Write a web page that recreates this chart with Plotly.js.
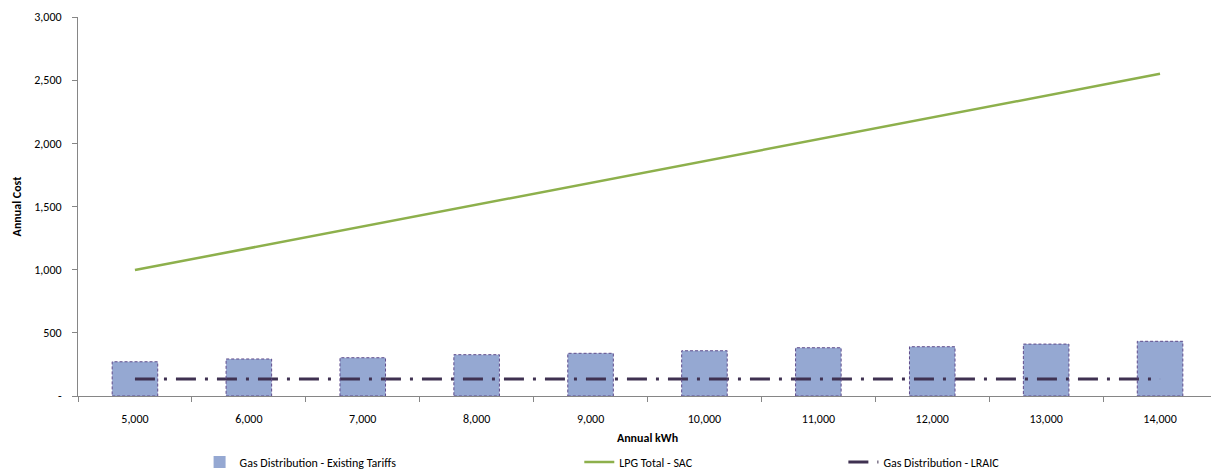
<!DOCTYPE html>
<html>
<head>
<meta charset="utf-8">
<script src="https://cdn.plot.ly/plotly-3.0.1.min.js"></script>
<style>
  html, body { margin: 0; padding: 0; background: #ffffff; overflow: hidden; }
  #chart { width: 1217px; height: 472px; }
</style>
</head>
<body>
<div id="chart"></div>
<script>
// Annual consumption bands (kWh)
const annualKwh = ["5,000", "6,000", "7,000", "8,000", "9,000", "10,000", "11,000", "12,000", "13,000", "14,000"];

// Gas distribution cost under existing tariffs
const existingTariffs = [271, 293, 303, 327, 338, 358, 382, 390, 411, 433];

// LPG total stand-alone cost
const lpgTotalSac = [997, 1170, 1342, 1515, 1687, 1860, 2032, 2205, 2377, 2550];

// Gas distribution long-run average incremental cost
const lraic = [135, 135, 135, 135, 135, 135, 135, 135, 135, 135];

// Y axis ticks (zero shown as a dash, accounting style)
const yTickVals = [0, 500, 1000, 1500, 2000, 2500, 3000];
const yTickText = ["-", "500", "1,000", "1,500", "2,000", "2,500", "3,000"];

const FONT = "Carlito, Lato, 'Liberation Sans', sans-serif";
const FS = 12;
const BAR_WIDTH = 0.4;

const traces = [
  {
    type: "bar",
    name: "Gas Distribution - Existing Tariffs",
    x: annualKwh,
    y: existingTariffs,
    width: BAR_WIDTH,
    marker: { color: "#95A8D2", line: { width: 0 } },
    legend: "legend",
    hoverinfo: "x+y"
  },
  {
    type: "scatter",
    mode: "lines",
    name: "LPG Total - SAC",
    x: annualKwh,
    y: lpgTotalSac,
    line: { color: "#8DB04C", width: 2.5 },
    legend: "legend2"
  },
  {
    type: "scatter",
    mode: "lines",
    name: "Gas Distribution - LRAIC",
    x: annualKwh,
    y: lraic,
    line: { color: "#3F3151", width: 3, dash: "20px,9px,3px,9px" },
    legend: "legend3"
  }
];

// Dashed outlines around each bar, built from the same series
const barOutlines = existingTariffs.map((v, i) => ({
  type: "rect",
  xref: "x",
  yref: "y",
  x0: i - BAR_WIDTH / 2,
  x1: i + BAR_WIDTH / 2,
  y0: 0,
  y1: v,
  line: { color: "#5F4B8B", width: 1, dash: "3px,2px" },
  fillcolor: "rgba(0,0,0,0)",
  layer: "above"
}));

// Legends are placed in container coordinates so they do not push the plot margins
const legendFont = { family: FONT, size: FS, color: "#000000" };
const legendBase = {
  orientation: "h",
  xref: "container",
  yref: "container",
  xanchor: "left",
  yanchor: "middle",
  y: 0.021,
  bgcolor: "rgba(0,0,0,0)",
  font: legendFont
};

const layout = {
  width: 1217,
  height: 472,
  margin: { l: 78, r: 0, t: 17, b: 76, pad: 0 },
  paper_bgcolor: "#ffffff",
  plot_bgcolor: "#ffffff",
  font: { family: FONT, size: FS, color: "#000000" },
  showlegend: true,
  bargap: 0.6,
  xaxis: {
    type: "category",
    automargin: false,
    tickson: "boundaries",
    ticks: "outside",
    ticklen: 5,
    tickcolor: "#868686",
    ticklabelstandoff: 12,
    showline: true,
    linecolor: "#868686",
    linewidth: 1,
    showgrid: false,
    zeroline: false,
    tickfont: { family: FONT, size: FS, color: "#000000" },
    title: { text: "<b>Annual kWh</b>", font: { family: FONT, size: FS, color: "#000000" }, standoff: 8 },
    fixedrange: true
  },
  yaxis: {
    range: [0, 3000],
    automargin: false,
    tickvals: yTickVals,
    ticktext: yTickText,
    ticks: "outside",
    ticklen: 5,
    tickcolor: "#868686",
    ticklabelstandoff: 8,
    showline: true,
    linecolor: "#868686",
    linewidth: 1,
    showgrid: false,
    zeroline: false,
    tickfont: { family: FONT, size: FS, color: "#000000" },
    title: { text: "<b>Annual Cost</b>", font: { family: FONT, size: FS, color: "#000000" }, standoff: 10 },
    fixedrange: true
  },
  legend: Object.assign({}, legendBase, { x: 0.164 }),
  legend2: Object.assign({}, legendBase, { x: 0.476 }),
  legend3: Object.assign({}, legendBase, { x: 0.693 }),
  shapes: barOutlines
};

Plotly.newPlot("chart", traces, layout, { displayModeBar: false, staticPlot: true });
</script>
</body>
</html>
